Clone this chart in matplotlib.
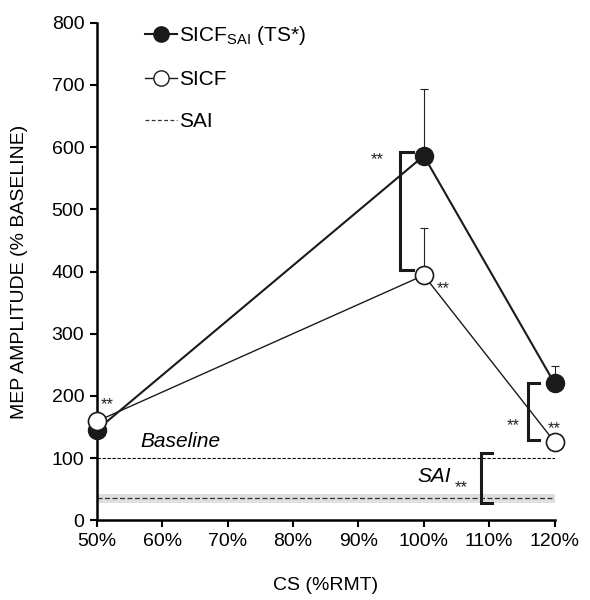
import matplotlib
matplotlib.use("Agg")
import matplotlib.pyplot as plt
from matplotlib.lines import Line2D

plt.rcParams['font.family'] = ['Liberation Sans', 'DejaVu Sans']
plt.rcParams['mathtext.default'] = 'regular'

cs = [50, 100, 120]
sicf_sai = [145, 586, 220]
sicf_sai_err = [0, 107, 28]
sicf = [159, 394, 126]
sicf_err = [0, 76, 0]
sai_mean = 35
sai_band = (28, 42)
baseline = 100
xticks = [50, 60, 70, 80, 90, 100, 110, 120]
yticks = [0, 100, 200, 300, 400, 500, 600, 700, 800]

fig = plt.figure(figsize=(5.9, 6.0), dpi=100)
ax = fig.add_axes([0.164, 0.133, 0.776, 0.829])

# SAI band and line
ax.axhspan(sai_band[0], sai_band[1], xmin=0, xmax=1, color='#dedede', lw=0, zorder=1)
ax.axhline(sai_mean, color='#333333', lw=0.9, ls=(0, (4, 2)), zorder=2)
ax.axhline(baseline, color='black', lw=0.8, ls=(0, (3, 1.5)), zorder=2)

# error bars (upward only)
ax.errorbar(cs, sicf_sai, yerr=[[0]*3, sicf_sai_err], fmt='none', ecolor='#222222',
            elinewidth=0.8, capsize=3, capthick=0.8, zorder=3, clip_on=False)
ax.errorbar(cs, sicf, yerr=[[0]*3, sicf_err], fmt='none', ecolor='#222222',
            elinewidth=0.8, capsize=3, capthick=0.8, zorder=3, clip_on=False)

ax.plot(cs, sicf_sai, color='#1a1a1a', lw=1.5, marker='o', ms=13, mfc='#1a1a1a',
        mec='#1a1a1a', zorder=5, clip_on=False)
ax.plot(cs, sicf, color='#1a1a1a', lw=1.0, marker='o', ms=13, mfc='white',
        mec='#1a1a1a', mew=1.2, zorder=6, clip_on=False)

# brackets
def bracket(x0, x1, y0, y1):
    ax.plot([x1, x0, x0, x1], [y0, y0, y1, y1], color='#1a1a1a', lw=2.2,
            solid_joinstyle='miter', zorder=4, clip_on=False)

bracket(96.4, 98.4, 403, 592)
bracket(116.0, 117.6, 129, 221)
bracket(108.8, 110.5, 27, 108)

star_kw = dict(fontsize=12, color='#222222', ha='center', va='center')
ax.text(92.9, 580, '**', **star_kw)
ax.text(103.0, 372, '**', **star_kw)
ax.text(51.6, 186, '**', **star_kw)
ax.text(120.0, 148, '**', **star_kw)
ax.text(113.6, 152, '**', **star_kw)
ax.text(105.8, 52, '**', **star_kw)
ax.text(99.0, 70, 'SAI', fontsize=15, style='italic', ha='left', va='center')
ax.text(56.6, 126, 'Baseline', fontsize=15, style='italic', ha='left', va='center')

ax.set_xlim(50, 120)
ax.set_ylim(0, 800)
ax.set_xticks(xticks)
ax.set_xticklabels([f'{t}%' for t in xticks])
ax.set_yticks(yticks)
ax.tick_params(labelsize=14, direction='out', length=5, width=1.5, pad=4)
for s in ['top', 'right']:
    ax.spines[s].set_visible(False)
for s in ['left', 'bottom']:
    ax.spines[s].set_linewidth(1.8)
ax.set_xlabel('CS (%RMT)', fontsize=14, labelpad=20)
ax.set_ylabel('MEP AMPLITUDE (% BASELINE)', fontsize=14, labelpad=17)

handles = [
    Line2D([], [], color='#1a1a1a', lw=1.5, marker='o', ms=11, mfc='#1a1a1a', mec='#1a1a1a'),
    Line2D([], [], color='#1a1a1a', lw=1.0, marker='o', ms=11, mfc='white', mec='#1a1a1a'),
    Line2D([], [], color='#333333', lw=0.9, ls=(0, (3, 2))),
]
labels = [r'SICF$_{SAI}$ (TS*)', 'SICF', 'SAI']
leg = ax.legend(handles, labels, loc='upper left', bbox_to_anchor=(0.065, 1.035),
                frameon=False, fontsize=15, handlelength=1.5, handletextpad=0.1,
                labelspacing=1.1)

fig.savefig('out.png', dpi=100)
